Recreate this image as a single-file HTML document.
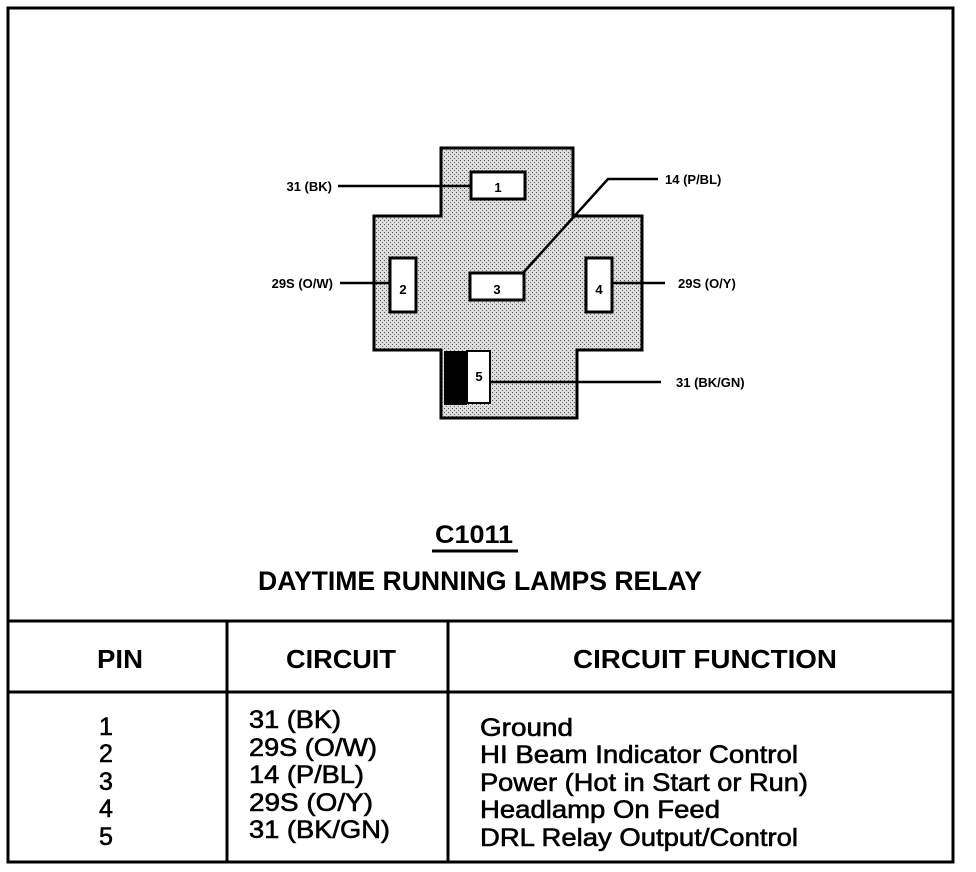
<!DOCTYPE html>
<html><head><meta charset="utf-8"><style>
html,body{margin:0;padding:0;background:#fff;}
svg{display:block;}
text{font-family:"Liberation Sans",Arial,sans-serif;fill:#000;}
</style></head><body>
<svg width="976" height="872" viewBox="0 0 976 872" xmlns="http://www.w3.org/2000/svg">
<defs>
<pattern id="dots" width="4" height="4" patternUnits="userSpaceOnUse">
<rect width="4" height="4" fill="#dcdcdc"/>
<rect x="0" y="0" width="1" height="1" fill="#555"/>
<rect x="2" y="2" width="1" height="1" fill="#777"/>
</pattern>
</defs>
<rect x="8" y="8" width="945" height="854" fill="none" stroke="#000" stroke-width="3"/>
<line x1="8" y1="621" x2="953" y2="621" stroke="#000" stroke-width="3"/>
<line x1="8" y1="692" x2="953" y2="692" stroke="#000" stroke-width="3"/>
<line x1="227" y1="621" x2="227" y2="862" stroke="#000" stroke-width="3"/>
<line x1="448" y1="621" x2="448" y2="862" stroke="#000" stroke-width="3"/>

<path d="M441 148 H573 V216 H642 V350 H577 V418 H441 V350 H374 V216 H441 Z" fill="url(#dots)" stroke="#000" stroke-width="3"/>
<rect x="471" y="172" width="54" height="27" fill="#fff" stroke="#000" stroke-width="3"/>
<text x="498" y="192" font-size="13" font-weight="bold" text-anchor="middle">1</text>
<rect x="390" y="258" width="26" height="54" fill="#fff" stroke="#000" stroke-width="3"/>
<text x="403" y="294" font-size="13" font-weight="bold" text-anchor="middle">2</text>
<rect x="470" y="273" width="54" height="27" fill="#fff" stroke="#000" stroke-width="3"/>
<text x="497" y="294" font-size="13" font-weight="bold" text-anchor="middle">3</text>
<rect x="586" y="258" width="26" height="54" fill="#fff" stroke="#000" stroke-width="3"/>
<text x="599" y="294" font-size="13" font-weight="bold" text-anchor="middle">4</text>
<rect x="444" y="351" width="23" height="54" fill="#000"/>
<rect x="467" y="351" width="23" height="52" fill="#fff" stroke="#000" stroke-width="2"/>
<text x="479" y="381" font-size="13" font-weight="bold" text-anchor="middle">5</text>

<g stroke="#000" stroke-width="2.5" fill="none">
<line x1="338" y1="186" x2="471" y2="186"/>
<polyline points="523,273 608,179 658,179"/>
<line x1="340" y1="283" x2="390" y2="283"/>
<line x1="612" y1="283" x2="665" y2="283"/>
<line x1="490" y1="382" x2="661" y2="382"/>
</g>
<g font-size="13" font-weight="bold">
<text x="332" y="191" text-anchor="end">31 (BK)</text>
<text x="665" y="184">14 (P/BL)</text>
<text x="333" y="288" text-anchor="end">29S (O/W)</text>
<text x="678" y="288">29S (O/Y)</text>
<text x="676" y="387">31 (BK/GN)</text>
</g>

<text x="435" y="543" font-size="25" font-weight="bold" textLength="78" lengthAdjust="spacingAndGlyphs">C1011</text>
<line x1="432" y1="551" x2="518" y2="551" stroke="#000" stroke-width="3"/>
<text x="258" y="590" font-size="27" font-weight="bold" textLength="444" lengthAdjust="spacingAndGlyphs">DAYTIME RUNNING LAMPS RELAY</text>

<g font-size="26" font-weight="bold">
<text x="97" y="668" textLength="46" lengthAdjust="spacingAndGlyphs">PIN</text>
<text x="286" y="668" textLength="110" lengthAdjust="spacingAndGlyphs">CIRCUIT</text>
<text x="573" y="668" textLength="264" lengthAdjust="spacingAndGlyphs">CIRCUIT FUNCTION</text>
</g>
<g font-size="25" stroke="#000" stroke-width="0.6">
<text x="106" y="735" text-anchor="middle">1</text>
<text x="106" y="762" text-anchor="middle">2</text>
<text x="106" y="790" text-anchor="middle">3</text>
<text x="106" y="817" text-anchor="middle">4</text>
<text x="106" y="845" text-anchor="middle">5</text>
<text x="249" y="728" textLength="92" lengthAdjust="spacingAndGlyphs">31 (BK)</text>
<text x="249" y="756" textLength="128" lengthAdjust="spacingAndGlyphs">29S (O/W)</text>
<text x="249" y="783" textLength="115" lengthAdjust="spacingAndGlyphs">14 (P/BL)</text>
<text x="249" y="811" textLength="124" lengthAdjust="spacingAndGlyphs">29S (O/Y)</text>
<text x="249" y="838" textLength="141" lengthAdjust="spacingAndGlyphs">31 (BK/GN)</text>
<text x="480" y="736" textLength="93" lengthAdjust="spacingAndGlyphs">Ground</text>
<text x="480" y="763" textLength="318" lengthAdjust="spacingAndGlyphs">HI Beam Indicator Control</text>
<text x="480" y="791" textLength="328" lengthAdjust="spacingAndGlyphs">Power (Hot in Start or Run)</text>
<text x="480" y="818" textLength="240" lengthAdjust="spacingAndGlyphs">Headlamp On Feed</text>
<text x="480" y="846" textLength="318" lengthAdjust="spacingAndGlyphs">DRL Relay Output/Control</text>
</g>
</svg>
</body></html>
